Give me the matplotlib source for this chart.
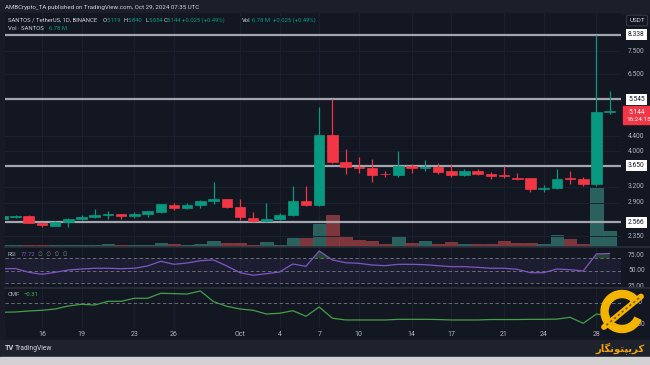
import numpy as np
import pandas as pd
import matplotlib
matplotlib.use("Agg")
import matplotlib.pyplot as plt
from matplotlib.patches import Rectangle, Wedge
from matplotlib.lines import Line2D
from matplotlib.transforms import blended_transform_factory

plt.rcParams['font.family'] = ['Roboto', 'DejaVu Sans']

# SANTOS/USDT daily, Sep 13 - Oct 29 2024
dates = pd.date_range("2024-09-13", "2024-10-29", freq="D")
opens = [2.61, 2.65, 2.67, 2.55, 2.50, 2.572, 2.61, 2.649, 2.683, 2.697, 2.668, 2.70,
         2.735, 2.858, 2.80, 2.852, 2.931, 2.957, 2.822, 2.64, 2.577, 2.61, 2.674, 2.925,
         2.852, 4.433, 3.752, 3.625, 3.605, 3.475, 3.455, 3.645, 3.61, 3.63, 3.53, 3.44,
         3.545, 3.48, 3.44, 3.384, 3.38, 3.16, 3.176, 3.39, 3.36, 3.264, 5.119]
highs = [2.67, 2.68, 2.685, 2.56, 2.58, 2.63, 2.69, 2.79, 2.75, 2.70, 2.74, 2.75,
         2.88, 2.89, 2.895, 2.94, 3.293, 2.97, 2.97, 2.73, 2.895, 2.717, 3.217, 3.217,
         5.293, 5.545, 4.065, 3.87, 3.81, 3.54, 4.01, 3.697, 3.78, 3.714, 3.70, 3.59,
         3.58, 3.51, 3.64, 3.49, 3.39, 3.23, 3.582, 3.544, 3.40, 8.338, 5.840]
lows = [2.60, 2.64, 2.55, 2.486, 2.50, 2.486, 2.60, 2.63, 2.62, 2.61, 2.63, 2.65,
        2.717, 2.775, 2.79, 2.81, 2.88, 2.81, 2.594, 2.566, 2.57, 2.60, 2.66, 2.834,
        2.84, 3.73, 3.46, 3.50, 3.306, 3.40, 3.40, 3.50, 3.54, 3.46, 3.40, 3.43,
        3.44, 3.37, 3.375, 3.35, 3.103, 3.10, 3.16, 3.252, 3.217, 3.22, 5.054]
closes = [2.66, 2.67, 2.556, 2.513, 2.572, 2.622, 2.655, 2.69, 2.70, 2.668, 2.70, 2.746,
          2.865, 2.80, 2.847, 2.931, 2.963, 2.822, 2.649, 2.577, 2.61, 2.683, 2.925, 2.852,
          4.433, 3.752, 3.621, 3.615, 3.455, 3.465, 3.645, 3.605, 3.625, 3.52, 3.44, 3.545,
          3.47, 3.43, 3.43, 3.36, 3.162, 3.17, 3.369, 3.37, 3.264, 5.115, 5.144]
volume_m = [0.44, 0.44, 0.66, 0.66, 0.44, 0.44, 0.44, 0.66, 0.87, 0.44, 0.44, 0.66,
            1.31, 0.87, 0.44, 0.87, 2.40, 1.31, 1.31, 0.66, 1.75, 0.44, 3.50, 3.50,
            9.83, 13.77, 4.37, 2.62, 2.19, 1.09, 4.37, 1.53, 2.19, 1.09, 1.75, 0.87,
            0.87, 0.87, 2.40, 1.31, 1.31, 0.87, 5.03, 3.06, 1.09, 25.6, 6.78]
rsi = [53.2, 53.4, 47.4, 44.2, 47.4, 51.1, 52.7, 53.9, 53.9, 53.2, 53.9, 57.6,
       65.2, 60.3, 62.4, 66.1, 67.3, 57.6, 46.8, 42.6, 45.2, 47.9, 60.8, 57.1,
       81.8, 67.3, 62.9, 61.9, 59.2, 58.1, 60.3, 60.3, 59.7, 58.1, 56.5, 56.5,
       55.4, 53.9, 53.9, 52.2, 46.8, 46.8, 52.7, 51.6, 49.5, 77.0, 77.72]
cmf = [-0.222, -0.215, -0.192, -0.176, -0.146, -0.076, -0.037, -0.053, 0.032, 0.032, 0.102, 0.102,
       0.218, 0.210, 0.201, 0.271, 0.023, -0.083, -0.146, -0.176, -0.262, -0.245, -0.185, -0.315,
       -0.10, -0.36, -0.40, -0.40, -0.40, -0.40, -0.385, -0.385, -0.385, -0.39, -0.40, -0.40,
       -0.40, -0.39, -0.39, -0.39, -0.385, -0.385, -0.38, -0.338, -0.477, -0.262, -0.31]

levels = [8.338, 5.545, 3.650, 2.566]
price_ticks = [7.5, 6.5, 4.4, 4.0, 3.2, 2.9, 2.35]
tick_days = pd.to_datetime(["2024-09-16", "2024-09-19", "2024-09-23", "2024-09-26", "2024-10-01",
                            "2024-10-04", "2024-10-07", "2024-10-10", "2024-10-14", "2024-10-17",
                            "2024-10-21", "2024-10-24", "2024-10-28"])
tick_labels = ["16", "19", "23", "26", "Oct", "4", "7", "10", "14", "17", "21", "24", "28"]

# colours
BG = '#131722'
PANEL = '#1e222d'
GRID = '#1c2030'
UP = '#089981'
DOWN = '#f23645'
TXT = '#b2b5be'
W, H = 650, 365
FS = 4.2  # legend text size

def rect(x0, y0, x1, y1):
    return [x0 / W, 1 - y1 / H, (x1 - x0) / W, (y1 - y0) / H]

def clean(a):
    a.set_facecolor(BG)
    for s in a.spines.values():
        s.set_visible(False)
    a.set_xticks([])
    a.set_yticks([])
    a.minorticks_off()

idx = np.arange(len(dates))
o = np.array(opens); c = np.array(closes)
up = c >= o
cols = np.where(up, UP, DOWN)
tick_pos = [dates.get_loc(d) for d in tick_days]
xlim = (0.2, 46.86)

fig = plt.figure(figsize=(6.5, 3.65), dpi=100, facecolor=BG)

# frame pieces
fig.add_artist(Rectangle((0, 1 - 13 / H), 1, 13 / H, transform=fig.transFigure, color='#1c1f29', zorder=0))
fig.add_artist(Rectangle((0, 1 - 340 / H), 5 / W, 327 / H, transform=fig.transFigure, color='#181b25', zorder=0))
fig.add_artist(Rectangle((0, 8 / H), 1, 17 / H, transform=fig.transFigure, color=PANEL, zorder=0))
fig.add_artist(Rectangle((0, 0), 1, 8 / H, transform=fig.transFigure, color='#d2d2d4', zorder=0))
for yy in (247.3, 287.5):
    fig.add_artist(Line2D([5 / W, 1], [1 - yy / H] * 2, transform=fig.transFigure, color='#2a2e39', lw=1.2))

# volume (behind)
axv = fig.add_axes(rect(5, 13, 621, 246.5))
clean(axv)
axv.set_xlim(*xlim)
axv.set_ylim(0, 101.4)
for p in tick_pos:
    axv.axvline(p, color=GRID, lw=0.7, zorder=0)
vcols = np.where(up, '#2a615d', '#7d363c')
vedge = np.where(up, '#33746f', '#944045')
axv.bar(idx, volume_m, width=0.93, color=vcols, edgecolor=vedge, linewidth=0.5)

# price
ax = fig.add_axes(rect(5, 13, 621, 246.5))
ax.set_yscale('log')
clean(ax)
ax.patch.set_visible(False)
ax.set_xlim(*xlim)
ax.set_ylim(2.20, 9.55)
for t in price_ticks:
    ax.axhline(t, color=GRID, lw=0.7, zorder=0)
for lv in levels:
    ax.axhline(lv, color='#a3a6af', lw=1.6, zorder=2)
body_lo = np.minimum(o, c)
body_hi = np.maximum(o, c)
ax.vlines(idx, lows, highs, colors=cols, lw=0.9, zorder=3)
ax.bar(idx, body_hi - body_lo, bottom=body_lo, width=0.8, color=cols, edgecolor=cols,
       linewidth=0.5, zorder=4)

tr = blended_transform_factory(ax.transAxes, ax.transData)
xr = (636.5 - 5) / 616
for t in price_ticks:
    ax.text(xr, t, f"{t:.3f}", transform=tr, ha='center', va='center', fontsize=4.8, color=TXT)
for lv in levels:
    ax.text(xr, lv, f"{lv:.3f}", transform=tr, ha='center', va='center', fontsize=4.8, color='#131722',
            bbox=dict(boxstyle='square,pad=0.3', fc='white', ec='none'))
fig.add_artist(Rectangle((623 / W, 1 - 124 / H), 27 / W, 17.5 / H, transform=fig.transFigure, color=DOWN, zorder=5))
fig.text(636.5 / W, 1 - 112 / H, "5.144", ha='center', va='center', fontsize=4.8, color='white', zorder=6)
fig.text(626 / W, 1 - 119.5 / H, "16:24:15", ha='left', va='center', fontsize=4.6, color='white', zorder=6)
fig.text(637 / W, 1 - 20.5 / H, "USDT", ha='center', va='center', fontsize=4.6, color='#d1d4dc',
         bbox=dict(boxstyle='round,pad=0.45,rounding_size=0.3', fc=BG, ec='#434651', lw=0.6))

# header and legend
fig.text(5 / W, 1 - 7 / H, "AMBCrypto_TA published on TradingView.com, Oct 29, 2024 07:35 UTC",
         fontsize=4.45, color='#d1d4dc', va='center')
row1 = [(8, "SANTOS / TetherUS, 1D, BINANCE", '#d1d4dc'), (103, "O", '#d1d4dc'), (106.5, "5.119", UP),
        (124, "H", '#d1d4dc'), (127.5, "5.840", UP), (145.5, "L", '#d1d4dc'), (148.5, "5.054", UP),
        (163.5, "C", '#d1d4dc'), (166.5, "5.144", UP), (182, "+0.025 (+0.49%)", UP),
        (242, "Vol", '#d1d4dc'), (251.5, "6.78 M", UP), (273, "+0.025 (+0.49%)", UP)]
for x, s, col in row1:
    fig.text(x / W, 1 - 20.5 / H, s, fontsize=FS, color=col, va='center')
fig.text(8 / W, 1 - 28.5 / H, "Vol · SANTOS", fontsize=FS, color='#d1d4dc', va='center')
fig.text(49 / W, 1 - 28.5 / H, "6.78 M", fontsize=FS, color=UP, va='center')

# RSI
axr = fig.add_axes(rect(5, 248, 621, 287))
clean(axr)
axr.set_xlim(*xlim)
axr.set_ylim(23.7, 86.6)
for p in tick_pos:
    axr.axvline(p, color=GRID, lw=0.7, zorder=0)
axr.axhspan(30, 70, color='#7e57c2', alpha=0.1, lw=0)
for v in (70, 50, 30):
    axr.axhline(v, color='#787b86', lw=0.6, ls=(0, (4, 3)))
r = np.array(rsi)
axr.fill_between(idx, r, 70, where=r > 70, interpolate=True, color='#4caf50', alpha=0.3, lw=0)
axr.plot(idx, r, color='#7e57c2', lw=0.9)
trr = blended_transform_factory(axr.transAxes, axr.transData)
for v in (75, 50, 25):
    axr.text(xr, v, f"{v:.2f}", transform=trr, ha='center', va='center', fontsize=4.8, color=TXT, clip_on=False)
fig.text(8 / W, 1 - 254 / H, "RSI", fontsize=FS, color=TXT, va='center')
fig.text(21 / W, 1 - 254 / H, "77.72", fontsize=FS, color='#7e57c2', va='center')
fig.text(38 / W, 1 - 254 / H, "∅  ∅  ∅  ∅", fontsize=4.0, color='#787b86', va='center',
         family=['DejaVu Sans'])

# CMF
axc = fig.add_axes(rect(5, 288, 621, 328))
clean(axc)
axc.set_xlim(*xlim)
axc.set_ylim(-0.586, 0.340)
for p in tick_pos:
    axc.axvline(p, color=GRID, lw=0.7, zorder=0)
axc.axhline(0, color='#787b86', lw=0.6, ls=(0, (4, 3)))
axc.plot(idx, cmf, color='#43a047', lw=0.9)
trc = blended_transform_factory(axc.transAxes, axc.transData)
for v, s in ((0.0, "0.00"), (-0.5, "−0.50")):
    axc.text(xr, v, s, transform=trc, ha='center', va='center', fontsize=4.8, color=TXT, clip_on=False)
fig.text(8 / W, 1 - 294 / H, "CMF", fontsize=FS, color=TXT, va='center')
fig.text(24 / W, 1 - 294 / H, "−0.31", fontsize=FS, color='#4caf50', va='center')
axc.set_xticks(tick_pos)
axc.set_xticklabels(tick_labels)
axc.tick_params(axis='x', length=0, pad=2.2, labelsize=5, labelcolor=TXT)

# footer
fig.text(5 / W, 8 / H + 8.5 / H, "TV", fontsize=5.3, fontweight='bold', color='#d1d4dc', va='center')
fig.text(15 / W, 8 / H + 8.5 / H, "TradingView", fontsize=4.9, color='#d1d4dc', va='center')

# watermark
gold = '#f4b400'
ic = fig.dpi_scale_trans
fig.add_artist(Wedge((6.22, 3.65 - 3.115), 0.21, 40, 335, width=0.07, transform=ic, color=gold, zorder=8))
fig.add_artist(Line2D([6.41, 6.04], [3.65 - 2.965, 3.65 - 3.27], transform=ic, color=gold, lw=4.2,
                      solid_capstyle='round', zorder=9))
fig.add_artist(Line2D([6.39, 6.06], [3.65 - 2.98, 3.65 - 3.255], transform=ic, color='#8a5a00', lw=1.2,
                      ls=(0, (1.5, 1.5)), zorder=10))
fig.text(620 / W, 8 / H + 8.5 / H, "\uFEAD\uFE8E\uFB95\uFEE7\uFEEE\uFE98\uFB59\uFBFE\uFEAE\uFB90",
         fontsize=7.2, fontweight='bold', color='#f0a30a', ha='center', va='center',
         family=['DejaVu Sans'], zorder=9)

fig.savefig("out.png", dpi=100, facecolor=BG)
